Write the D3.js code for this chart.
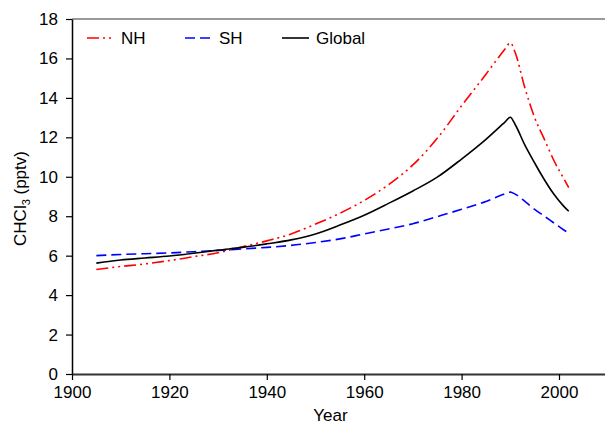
<!DOCTYPE html>
<html>
<head>
<meta charset="utf-8">
<script src="https://cdn.jsdelivr.net/npm/d3@7"></script>
<style>
  html, body { margin: 0; padding: 0; background: #fff; }
  svg { display: block; font-family: "Liberation Sans", Arial, sans-serif; }
</style>
</head>
<body>
<svg id="chart" width="605" height="424"></svg>
<script>
const years  = [1905,1910,1915,1920,1925,1930,1935,1940,1945,1950,1955,1960,1965,1970,1975,1980,1985,1989,1990,1991,1993,1995,1997,1999,2001,2002];
const nh     = [5.3,5.45,5.58,5.75,5.95,6.15,6.45,6.75,7.1,7.6,8.15,8.8,9.6,10.6,11.95,13.6,15.2,16.5,16.8,16.3,14.5,13.0,11.9,10.8,9.9,9.45];
const sh     = [6.0,6.06,6.1,6.14,6.2,6.26,6.34,6.42,6.52,6.67,6.85,7.1,7.35,7.62,7.98,8.35,8.75,9.15,9.22,9.12,8.75,8.35,8.0,7.65,7.3,7.15];
const glob   = [5.62,5.78,5.88,5.98,6.12,6.28,6.42,6.6,6.8,7.1,7.55,8.05,8.65,9.28,9.98,10.9,11.9,12.8,13.02,12.65,11.6,10.7,9.85,9.1,8.5,8.25];
const xTicks = [1900,1920,1940,1960,1980,2000];
const yTicks = [0,2,4,6,8,10,12,14,16,18];
const seriesNames = ["NH","SH","Global"];

const svg = d3.select("#chart");
const x = d3.scaleLinear().domain([1900, 2010]).range([72, 607.7]);
const y = d3.scaleLinear().domain([0, 18]).range([374, 19]);

const styles = {
  NH: {color: "#ff0000", dash: "12,4,2,4,2,4"},
  SH: {color: "#0000ff", dash: "10,5"},
  Global: {color: "#000000", dash: null}
};
const dataMap = {NH: nh, SH: sh, Global: glob};

// top border
svg.append("line").attr("x1", x(1900)).attr("x2", 605).attr("y1", y(18)).attr("y2", y(18))
  .attr("stroke", "#777").attr("stroke-width", 1.5);

// y axis
const yAxis = svg.append("g").attr("transform", `translate(${x(1900)},0)`)
  .call(d3.axisLeft(y).tickValues(yTicks).tickSize(6).tickPadding(8).tickSizeOuter(0));
yAxis.select(".domain").attr("stroke", "#000").attr("stroke-width", 1.5);
yAxis.selectAll(".tick line").attr("stroke", "#000").attr("stroke-width", 1.2);
yAxis.selectAll(".tick text").attr("font-size", 17).attr("fill", "#000")
  .attr("font-family", "Liberation Sans, Arial, sans-serif");

// x axis
const xAxis = svg.append("g").attr("transform", `translate(0,${y(0)})`)
  .call(d3.axisBottom(x).tickValues(xTicks).tickFormat(d3.format("d")).tickSize(6).tickPadding(6).tickSizeOuter(0));
xAxis.select(".domain").attr("stroke", "#333").attr("stroke-width", 2);
xAxis.selectAll(".tick line").attr("stroke", "#000").attr("stroke-width", 1.2);
xAxis.selectAll(".tick text").attr("font-size", 17).attr("fill", "#000")
  .attr("font-family", "Liberation Sans, Arial, sans-serif");

// axis titles
svg.append("text").attr("x", (x(1900) + 605) / 2 - 8).attr("y", 421)
  .attr("text-anchor", "middle").attr("font-size", 17).text("Year");
const yl = svg.append("text").attr("transform", `translate(26,${y(9) + 2}) rotate(-90)`)
  .attr("text-anchor", "middle").attr("font-size", 17);
yl.append("tspan").text("CHCl");
yl.append("tspan").attr("font-size", 11).attr("dy", 4).text("3");
yl.append("tspan").attr("dy", -4).text(" (pptv)");

// lines
const line = d3.line().x((d, i) => x(years[i])).y(d => y(d)).curve(d3.curveMonotoneX);
seriesNames.forEach(name => {
  const s = styles[name];
  svg.append("path").datum(dataMap[name])
    .attr("fill", "none").attr("stroke", s.color).attr("stroke-width", 1.6)
    .attr("stroke-dasharray", s.dash).attr("d", line);
});

// legend
const legX = [87, 185, 282];
seriesNames.forEach((name, i) => {
  const s = styles[name];
  svg.append("line").attr("x1", legX[i]).attr("x2", legX[i] + 27).attr("y1", 38).attr("y2", 38)
    .attr("stroke", s.color).attr("stroke-width", 1.6).attr("stroke-dasharray", s.dash);
  svg.append("text").attr("x", legX[i] + 34).attr("y", 44).attr("font-size", 17).text(name);
});
</script>
</body>
</html>
